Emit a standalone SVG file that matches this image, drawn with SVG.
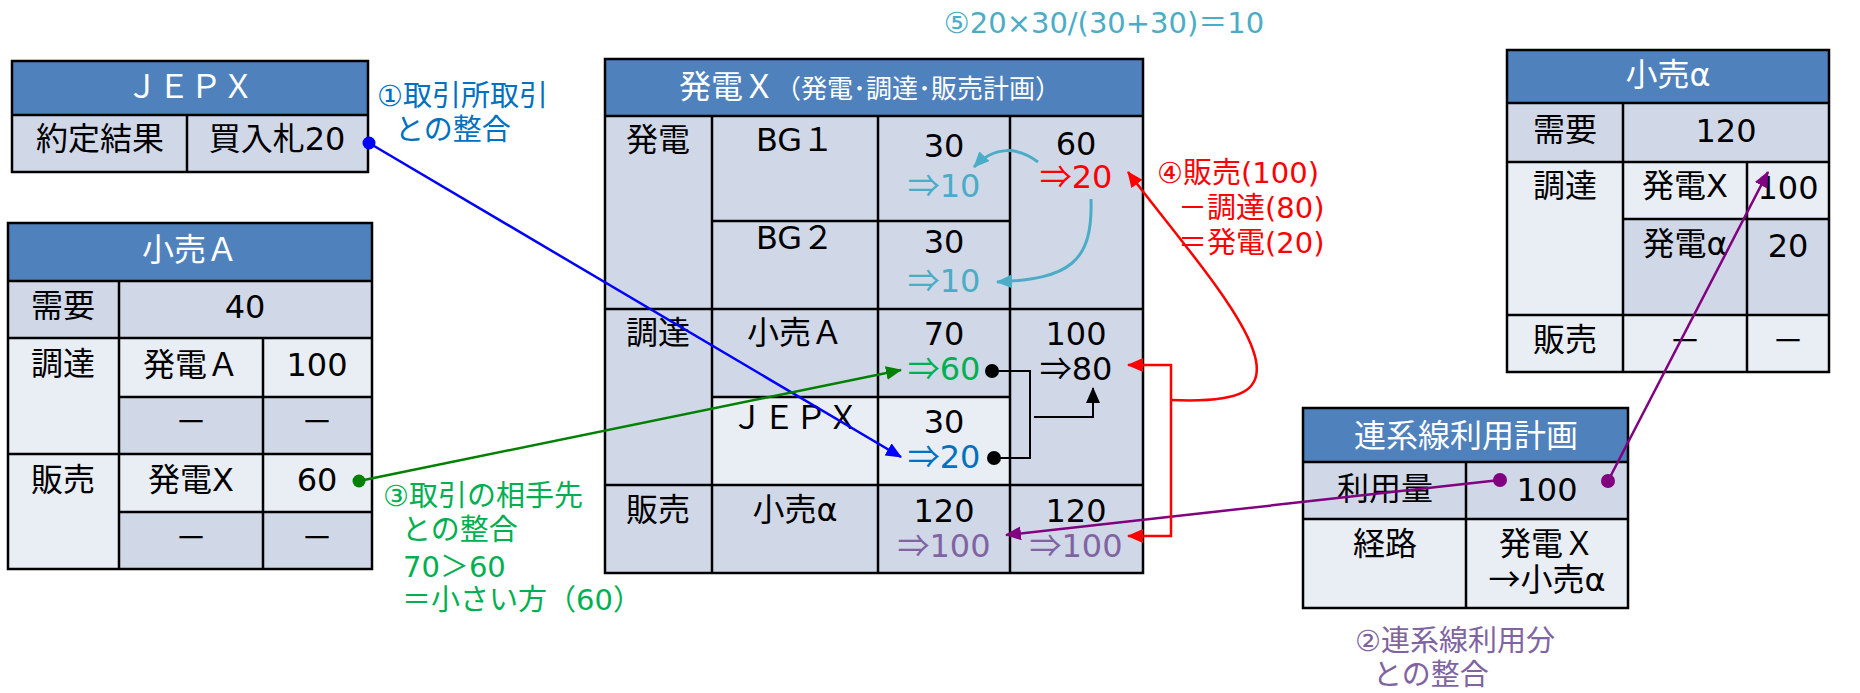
<svg xmlns="http://www.w3.org/2000/svg" width="1860" height="693" viewBox="0 0 1860 693">
<style>
text { font-family: "DejaVu Sans", "Noto Sans CJK JP", sans-serif; }
.cj { font-family: "Noto Sans CJK JP", sans-serif; }
.t { font-size: 32px; fill: #000; text-anchor: middle; }
.h { font-size: 32px; fill: #fff; text-anchor: middle; }
.lb { font-size: 29px; }
.hdr { fill: #4F81BD; }
.dk { fill: #D0D8E8; }
.lt { fill: #E9EDF4; }
.grid { stroke: #000; stroke-width: 2.5; fill: none; }
.teal { fill: #4BACC6; }
.red { fill: #FF0000; }
.grn { fill: #00B050; }
.blu { fill: #0070C0; }
.pur { fill: #8064A2; }
</style>
<defs>
<marker id="a-blue" markerUnits="userSpaceOnUse" markerWidth="16" markerHeight="14" viewBox="0 0 16 14" refX="15" refY="7" orient="auto"><path d="M0,0 L16,7 L0,14 z" fill="#0000FF"/></marker>
<marker id="a-green" markerUnits="userSpaceOnUse" markerWidth="16" markerHeight="14" viewBox="0 0 16 14" refX="15" refY="7" orient="auto"><path d="M0,0 L16,7 L0,14 z" fill="#008000"/></marker>
<marker id="a-purple" markerUnits="userSpaceOnUse" markerWidth="16" markerHeight="14" viewBox="0 0 16 14" refX="15" refY="7" orient="auto"><path d="M0,0 L16,7 L0,14 z" fill="#800080"/></marker>
<marker id="a-red" markerUnits="userSpaceOnUse" markerWidth="16" markerHeight="14" viewBox="0 0 16 14" refX="15" refY="7" orient="auto"><path d="M0,0 L16,7 L0,14 z" fill="#FF0000"/></marker>
<marker id="a-teal" markerUnits="userSpaceOnUse" markerWidth="16" markerHeight="14" viewBox="0 0 16 14" refX="15" refY="7" orient="auto"><path d="M0,0 L16,7 L0,14 z" fill="#4BACC6"/></marker>
<marker id="a-black" markerUnits="userSpaceOnUse" markerWidth="16" markerHeight="14" viewBox="0 0 16 14" refX="15" refY="7" orient="auto"><path d="M0,0 L16,7 L0,14 z" fill="#000"/></marker>
</defs>
<rect width="1860" height="693" fill="#fff"/>

<g id="jepx">
<rect class="hdr" x="12" y="61" width="356" height="54"/>
<rect class="dk" x="12" y="115" width="356" height="57"/>
<path class="grid" d="M12,61 H368 V172 H12 Z M12,115 H368 M187,115 V172"/>
<text class="h" x="190" y="98">ＪＥＰＸ</text>
<text class="t" x="100" y="150">約定結果</text>
<text class="t" x="277" y="150">買入札20</text>
</g>

<g id="retailA">
<rect class="hdr" x="8" y="223" width="364" height="58"/>
<rect class="dk" x="8" y="281" width="364" height="57"/>
<rect class="lt" x="8" y="338" width="364" height="231"/>
<rect class="dk" x="119" y="397" width="253" height="57"/>
<rect class="dk" x="119" y="512" width="253" height="57"/>
<path class="grid" d="M8,223 H372 V569 H8 Z M8,281 H372 M8,338 H372 M8,454 H372 M119,397 H372 M119,512 H372 M119,281 V569 M263,338 V569"/>
<text class="h" x="190" y="261">小売Ａ</text>
<text class="t" x="63" y="317">需要</text>
<text class="t" x="245" y="318">40</text>
<text class="t" x="63" y="375">調達</text>
<text class="t" x="191" y="376">発電Ａ</text>
<text class="t" x="317" y="376">100</text>
<text class="t" x="191" y="433">－</text>
<text class="t" x="317" y="433">－</text>
<text class="t" x="63" y="491">販売</text>
<text class="t" x="191" y="491">発電X</text>
<text class="t" x="317" y="491">60</text>
<text class="t" x="191" y="549">－</text>
<text class="t" x="317" y="549">－</text>
</g>

<g id="genX">
<rect class="hdr" x="605" y="59" width="538" height="57"/>
<rect class="dk" x="605" y="116" width="538" height="457"/>
<rect class="lt" x="712" y="397" width="298" height="88"/>
<path class="grid" d="M605,59 H1143 V573 H605 Z M605,116 H1143 M605,309 H1143 M605,485 H1143 M712,221 H1010 M712,397 H1010 M712,116 V573 M878,116 V573 M1010,116 V573"/>
<text x="679" y="98" fill="#fff"><tspan font-size="32">発電Ｘ</tspan><tspan font-size="26">（発電･調達･販売計画）</tspan></text>
<text class="t" x="658" y="151">発電</text>
<text class="t" x="795" y="151">BG１</text>
<text class="t" x="944" y="157">30</text>
<text class="t teal" x="944" y="197"><tspan class="cj">⇒</tspan>10</text>
<text class="t" x="1076" y="155">60</text>
<text class="t red" x="1076" y="188"><tspan class="cj">⇒</tspan>20</text>
<text class="t" x="795" y="249">BG２</text>
<text class="t" x="944" y="253">30</text>
<text class="t teal" x="944" y="292"><tspan class="cj">⇒</tspan>10</text>
<text class="t" x="658" y="344">調達</text>
<text class="t" x="795" y="344">小売Ａ</text>
<text class="t" x="944" y="345">70</text>
<text class="t grn" x="944" y="380"><tspan class="cj">⇒</tspan>60</text>
<text class="t" x="1076" y="345">100</text>
<text class="t" x="1076" y="380"><tspan class="cj">⇒</tspan>80</text>
<text class="t" x="795" y="429" font-size="26">ＪＥＰＸ</text>
<text class="t" x="944" y="433">30</text>
<text class="t blu" x="944" y="468"><tspan class="cj">⇒</tspan>20</text>
<text class="t" x="658" y="521">販売</text>
<text class="t" x="795" y="521">小売α</text>
<text class="t" x="944" y="522">120</text>
<text class="t pur" x="944" y="557"><tspan class="cj">⇒</tspan>100</text>
<text class="t" x="1076" y="522">120</text>
<text class="t pur" x="1076" y="557"><tspan class="cj">⇒</tspan>100</text>
</g>

<g id="retailAlpha">
<rect class="hdr" x="1507" y="50" width="322" height="53"/>
<rect class="dk" x="1507" y="103" width="322" height="59"/>
<rect class="lt" x="1507" y="162" width="322" height="210"/>
<rect class="dk" x="1623" y="219" width="206" height="96"/>
<path class="grid" d="M1507,50 H1829 V372 H1507 Z M1507,103 H1829 M1507,162 H1829 M1507,315 H1829 M1623,219 H1829 M1623,103 V372 M1747,162 V372"/>
<text class="h" x="1668" y="86">小売α</text>
<text class="t" x="1565" y="141">需要</text>
<text class="t" x="1726" y="142">120</text>
<text class="t" x="1565" y="197">調達</text>
<text class="t" x="1685" y="197">発電X</text>
<text class="t" x="1788" y="199">100</text>
<text class="t" x="1685" y="255">発電α</text>
<text class="t" x="1788" y="257">20</text>
<text class="t" x="1565" y="351">販売</text>
<text class="t" x="1685" y="352">－</text>
<text class="t" x="1788" y="352">－</text>
</g>

<g id="interconnect">
<rect class="hdr" x="1303" y="408" width="325" height="54"/>
<rect class="dk" x="1303" y="462" width="325" height="57"/>
<rect class="lt" x="1303" y="519" width="325" height="89"/>
<path class="grid" d="M1303,408 H1628 V608 H1303 Z M1303,462 H1628 M1303,519 H1628 M1466,462 V608"/>
<text class="h" x="1466" y="447">連系線利用計画</text>
<text class="t" x="1385" y="500">利用量</text>
<text class="t" x="1547" y="501">100</text>
<text class="t" x="1385" y="555">経路</text>
<text class="t" x="1547" y="555">発電Ｘ</text>
<text class="t" x="1547" y="591"><tspan class="cj">→</tspan>小売α</text>
</g>

<g id="label1" class="lb" fill="#0070C0">
<text x="377" y="106">①取引所取引</text>
<text x="395" y="140">との整合</text>
</g>
<g id="label3" class="lb" fill="#00B050">
<text x="383" y="506">③取引の相手先</text>
<text x="402" y="540">との整合</text>
<text x="403" y="577">70＞60</text>
<text x="402" y="610">＝小さい方（60）</text>
</g>
<g id="label4" class="lb" fill="#FF0000">
<text x="1157" y="183">④販売(100)</text>
<text x="1178" y="218">－調達(80)</text>
<text x="1178" y="253">＝発電(20)</text>
</g>
<g id="label5" class="lb" fill="#4BACC6">
<text x="1104" y="33" text-anchor="middle">⑤20×30/(30+30)＝10</text>
</g>
<g id="label2" class="lb" fill="#8064A2">
<text x="1355" y="651">②連系線利用分</text>
<text x="1373" y="685">との整合</text>
</g>

<g id="connectors" fill="none">
<path d="M369,143 L901,457" stroke="#0000FF" stroke-width="2.5" marker-end="url(#a-blue)"/>
<circle cx="369" cy="143" r="6.5" fill="#0000FF"/>
<path d="M359,481 L901,370" stroke="#008000" stroke-width="2.5" marker-end="url(#a-green)"/>
<circle cx="359" cy="481" r="6.5" fill="#008000"/>
<path d="M1500,480 L1006,535" stroke="#800080" stroke-width="2.5" marker-end="url(#a-purple)"/>
<circle cx="1500" cy="480" r="7" fill="#800080"/>
<path d="M1608,481 L1768,172" stroke="#800080" stroke-width="2.5" marker-end="url(#a-purple)"/>
<circle cx="1608" cy="481" r="7" fill="#800080"/>
<path d="M1038,162 C1018,147 995,145 974,167" stroke="#4BACC6" stroke-width="3" marker-end="url(#a-teal)"/>
<path d="M1091,199 C1093,262 1070,279 997,282" stroke="#4BACC6" stroke-width="3" marker-end="url(#a-teal)"/>
<path d="M992,371 H1030 V458 H994" stroke="#000" stroke-width="2"/>
<circle cx="992" cy="371" r="7" fill="#000"/>
<circle cx="994" cy="458" r="7" fill="#000"/>
<path d="M1034,417 H1093 V388" stroke="#000" stroke-width="2" marker-end="url(#a-black)"/>
<path d="M1171,400 V365 H1128" stroke="#FF0000" stroke-width="2.5" marker-end="url(#a-red)"/>
<path d="M1171,400 V536 H1128" stroke="#FF0000" stroke-width="2.5" marker-end="url(#a-red)"/>
<path d="M1171,400 C1240,403 1268,392 1253,350 C1238,305 1170,228 1128,172" stroke="#FF0000" stroke-width="2.5" marker-end="url(#a-red)"/>
</g>
</svg>
